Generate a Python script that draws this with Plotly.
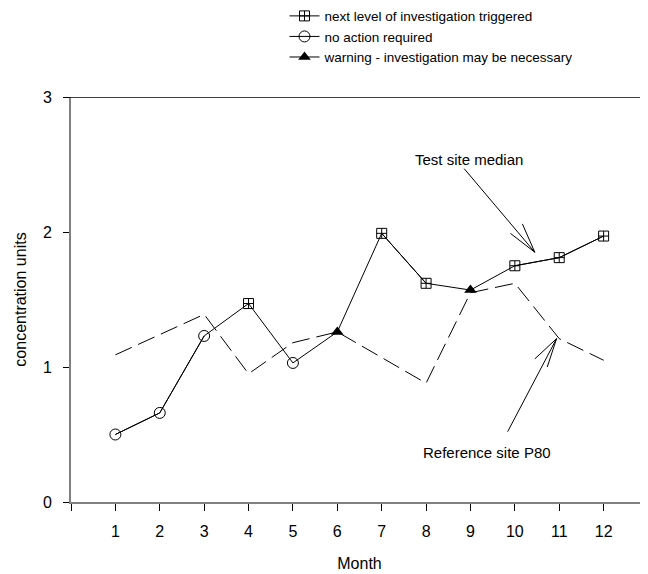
import plotly.graph_objects as go

months = list(range(1, 13))
test_median = [0.50, 0.66, 1.23, 1.47, 1.03, 1.26, 1.99, 1.62, 1.57, 1.75, 1.81, 1.97]
reference_p80 = [1.09, 1.24, 1.39, 0.95, 1.18, 1.26, 1.07, 0.88, 1.55, 1.62, 1.21, 1.05]
status = ["none", "none", "none", "next", "none", "warn", "next", "next", "warn", "next", "next", "next"]
x_tick_vals = list(range(0, 13))
x_tick_text = [""] + [str(m) for m in months]
y_tick_vals = [0, 1, 2, 3]

FONT = "Liberation Sans, Arial, sans-serif"

fig = go.Figure()

# Reference P80 dashed line
fig.add_trace(go.Scatter(x=months, y=reference_p80, mode="lines",
                         line=dict(color="black", width=1, dash="18px,7px"),
                         showlegend=False, hoverinfo="skip"))
# Test site median solid line
fig.add_trace(go.Scatter(x=months, y=test_median, mode="lines",
                         line=dict(color="black", width=1),
                         showlegend=False, hoverinfo="skip"))

cats = [
    ("next", "next level of investigation triggered",
     dict(symbol="square-cross-open", size=10, color="black", line=dict(width=1, color="#444"))),
    ("none", "no action required",
     dict(symbol="circle-open", size=11, color="black", line=dict(width=1, color="black"))),
    ("warn", "warning - investigation may be necessary",
     dict(symbol="triangle-up", size=11, color="black", line=dict(width=0))),
]
for key, name, mk in cats:
    ys = [v if s == key else None for v, s in zip(test_median, status)]
    fig.add_trace(go.Scatter(x=months, y=ys, mode="lines+markers", name=name,
                             connectgaps=False,
                             line=dict(color="black", width=1),
                             marker=mk))

# top border line
fig.add_shape(type="line", xref="paper", yref="y", x0=-0.011, x1=1, y0=3, y1=3,
              line=dict(color="black", width=1.5))

# Test site median annotation arrow
fig.add_annotation(x=10.45, y=1.85, ax=8.83, ay=2.48, xref="x", yref="y",
                   axref="x", ayref="y", text="", showarrow=True,
                   arrowhead=0, arrowwidth=1, arrowcolor="black")
fig.add_shape(type="path", xref="x", yref="y",
              path="M 9.90,1.99 L 10.45,1.85 L 10.17,2.06",
              line=dict(color="black", width=1))
fig.add_annotation(x=8.97, y=2.54, xref="x", yref="y", text="Test site median",
                   showarrow=False, font=dict(family=FONT, size=15, color="black"))

# Reference site P80 annotation arrow
fig.add_annotation(x=10.94, y=1.21, ax=9.82, ay=0.51, xref="x", yref="y",
                   axref="x", ayref="y", text="", showarrow=True,
                   arrowhead=0, arrowwidth=1, arrowcolor="black")
fig.add_shape(type="path", xref="x", yref="y",
              path="M 10.45,1.06 L 10.94,1.21 L 10.73,1.00",
              line=dict(color="black", width=1))
fig.add_annotation(x=9.37, y=0.37, xref="x", yref="y", text="Reference site P80",
                   showarrow=False, font=dict(family=FONT, size=15, color="black"))

fig.update_layout(
    width=640, height=566,
    margin=dict(l=63, r=0, t=89, b=72, autoexpand=False),
    plot_bgcolor="white", paper_bgcolor="white",
    font=dict(family=FONT, size=16, color="black"),
    showlegend=True,
    legend=dict(x=0.37, y=1.238, xanchor="left", yanchor="top",
                font=dict(family=FONT, size=13.5, color="black"),
                bgcolor="rgba(0,0,0,0)", tracegroupgap=0, itemwidth=30),
    xaxis=dict(range=[0, 13], tickvals=x_tick_vals, ticktext=x_tick_text,
               showgrid=False, zeroline=False, showline=True,
               linecolor="#808080", linewidth=2,
               ticks="outside", ticklen=7, tickcolor="black", tickwidth=1,
               ticklabelstandoff=7,
               title=dict(text="Month", standoff=19, font=dict(size=16)),
               automargin=False),
    yaxis=dict(range=[0, 3], tickvals=y_tick_vals,
               showgrid=False, zeroline=False, showline=True,
               linecolor="#808080", linewidth=2,
               ticks="outside", ticklen=6, tickcolor="black", tickwidth=1,
               ticklabelstandoff=8,
               title=dict(text="concentration units", standoff=12, font=dict(size=16)),
               automargin=False),
)

fig.write_html("out.html")
